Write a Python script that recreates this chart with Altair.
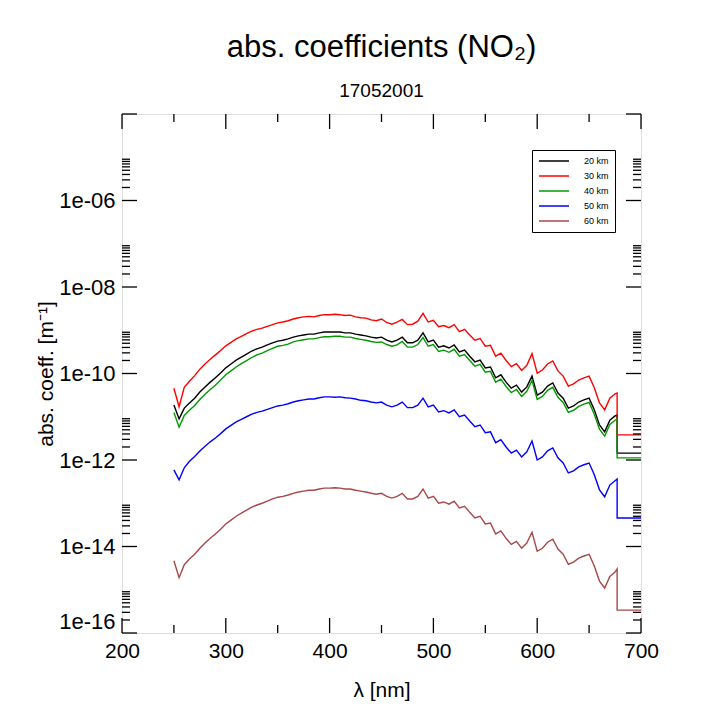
import altair as alt
import pandas as pd

# wavelength grid (nm) of the plotted spectra; last point is just before the drop
wavelengths = list(range(250, 680, 5)) + [677]
series_names = ["20 km", "30 km", "40 km", "50 km", "60 km"]
series_colors = ["#000000", "#ff0000", "#009a00", "#0000ff", "#a84848"]

# log10 of abs. coefficient [m^-1]
log_20km = [-10.73, -11.05, -10.80, -10.68, -10.57, -10.43, -10.31, -10.20, -10.10, -9.99,
            -9.87, -9.78, -9.69, -9.62, -9.55, -9.48, -9.43, -9.39, -9.34, -9.29,
            -9.25, -9.23, -9.20, -9.16, -9.13, -9.11, -9.09, -9.09, -9.06, -9.04,
            -9.04, -9.04, -9.04, -9.06, -9.06, -9.09, -9.11, -9.13, -9.16, -9.18,
            -9.16, -9.23, -9.27, -9.23, -9.16, -9.29, -9.29, -9.23, -9.06, -9.27,
            -9.23, -9.39, -9.36, -9.41, -9.34, -9.50, -9.46, -9.60, -9.73, -9.69,
            -9.87, -9.85, -10.10, -10.03, -10.20, -10.34, -10.27, -10.43, -10.31, -10.06,
            -10.50, -10.43, -10.29, -10.22, -10.45, -10.57, -10.80, -10.75, -10.66, -10.61,
            -10.57, -10.84, -11.19, -11.35, -11.08, -10.98, -10.96]
log_30km = [-10.34, -10.77, -10.32, -10.18, -10.05, -9.90, -9.78, -9.67, -9.57, -9.47,
            -9.36, -9.28, -9.20, -9.14, -9.08, -9.02, -8.98, -8.95, -8.91, -8.87,
            -8.83, -8.81, -8.78, -8.74, -8.71, -8.69, -8.68, -8.69, -8.66, -8.64,
            -8.64, -8.63, -8.64, -8.66, -8.65, -8.69, -8.71, -8.72, -8.76, -8.78,
            -8.74, -8.82, -8.86, -8.81, -8.75, -8.87, -8.86, -8.79, -8.61, -8.81,
            -8.77, -8.92, -8.89, -8.94, -8.87, -9.03, -8.98, -9.11, -9.23, -9.19,
            -9.37, -9.35, -9.60, -9.53, -9.70, -9.84, -9.77, -9.93, -9.81, -9.54,
            -9.99, -9.92, -9.78, -9.71, -9.94, -10.06, -10.29, -10.24, -10.15, -10.10,
            -10.06, -10.33, -10.68, -10.84, -10.57, -10.47, -10.45]
log_40km = [-10.90, -11.24, -10.97, -10.85, -10.74, -10.60, -10.48, -10.37, -10.27, -10.15,
            -10.03, -9.94, -9.85, -9.77, -9.70, -9.63, -9.57, -9.53, -9.47, -9.42,
            -9.37, -9.35, -9.32, -9.27, -9.24, -9.22, -9.20, -9.20, -9.17, -9.15,
            -9.15, -9.14, -9.14, -9.16, -9.16, -9.19, -9.21, -9.23, -9.26, -9.28,
            -9.27, -9.33, -9.37, -9.34, -9.26, -9.39, -9.39, -9.33, -9.17, -9.37,
            -9.33, -9.49, -9.46, -9.51, -9.44, -9.60, -9.56, -9.70, -9.83, -9.79,
            -9.97, -9.95, -10.20, -10.13, -10.30, -10.44, -10.37, -10.53, -10.41, -10.16,
            -10.60, -10.53, -10.39, -10.32, -10.55, -10.67, -10.90, -10.85, -10.76, -10.71,
            -10.67, -10.94, -11.29, -11.45, -11.18, -11.08, -11.05]
log_50km = [-12.23, -12.46, -12.18, -12.03, -11.92, -11.79, -11.68, -11.58, -11.49, -11.39,
            -11.28, -11.20, -11.12, -11.06, -11.00, -10.94, -10.90, -10.87, -10.83, -10.79,
            -10.75, -10.73, -10.70, -10.66, -10.63, -10.61, -10.59, -10.59, -10.56, -10.54,
            -10.54, -10.55, -10.54, -10.56, -10.57, -10.59, -10.62, -10.63, -10.66, -10.68,
            -10.66, -10.73, -10.77, -10.73, -10.66, -10.79, -10.79, -10.73, -10.57, -10.77,
            -10.73, -10.89, -10.86, -10.91, -10.84, -11.00, -10.96, -11.10, -11.23, -11.19,
            -11.37, -11.35, -11.60, -11.53, -11.70, -11.84, -11.77, -11.93, -11.81, -11.56,
            -12.00, -11.93, -11.79, -11.72, -11.95, -12.07, -12.30, -12.25, -12.16, -12.11,
            -12.07, -12.34, -12.69, -12.85, -12.58, -12.48, -12.44]
log_60km = [-14.33, -14.72, -14.42, -14.29, -14.18, -14.04, -13.92, -13.81, -13.71, -13.60,
            -13.48, -13.39, -13.30, -13.23, -13.16, -13.09, -13.04, -13.00, -12.95, -12.90,
            -12.86, -12.84, -12.81, -12.77, -12.74, -12.72, -12.70, -12.70, -12.67, -12.65,
            -12.65, -12.64, -12.65, -12.67, -12.67, -12.70, -12.72, -12.74, -12.77, -12.79,
            -12.77, -12.84, -12.88, -12.84, -12.77, -12.90, -12.90, -12.84, -12.67, -12.88,
            -12.84, -13.00, -12.97, -13.02, -12.95, -13.11, -13.07, -13.21, -13.34, -13.30,
            -13.48, -13.46, -13.71, -13.64, -13.81, -13.95, -13.88, -14.04, -13.92, -13.67,
            -14.11, -14.04, -13.90, -13.83, -14.06, -14.18, -14.41, -14.36, -14.27, -14.22,
            -14.18, -14.45, -14.80, -14.96, -14.69, -14.59, -14.52]
# constant level after the drop (677 - 700 nm)
plateau_log = [-11.84, -11.42, -11.95, -13.34, -15.47]
plateau_wavelengths = [677, 700]

# axis tick positions
x_major = [200, 300, 400, 500, 600, 700]
x_minor = [250, 350, 450, 550, 650]
y_major = [1e-16, 1e-14, 1e-12, 1e-10, 1e-8, 1e-6, 1e-4]
y_labels = [1e-16, 1e-14, 1e-12, 1e-10, 1e-8, 1e-6]
minor_mult = [2, 3, 4, 5, 6, 7, 8, 9]
y_minor = [k * d for d in [1e-16, 1e-14, 1e-12, 1e-10, 1e-8, 1e-6] for k in minor_mult]

all_logs = [log_20km, log_30km, log_40km, log_50km, log_60km]
rows = []
for name, logs, plat in zip(series_names, all_logs, plateau_log):
    i = 0
    for lam, lg in zip(wavelengths, logs):
        rows.append({"lam": lam, "val": 10 ** lg, "series": name, "idx": i})
        i += 1
    for lam in plateau_wavelengths:
        rows.append({"lam": lam, "val": 10 ** plat, "series": name, "idx": i})
        i += 1
df = pd.DataFrame(rows)

W, H = 519, 519
FONT = "Liberation Sans"
MAJ, MIN = 15, 8

xscale = alt.Scale(domain=[200, 700], nice=False, zero=False)
yscale = alt.Scale(type="log", domain=[1e-16, 1e-4], nice=False)

label_expr = ("'1e-' + (abs(round(log(datum.value)/LN10)) < 10 ? '0' : '') + "
              "abs(round(log(datum.value)/LN10))")

x_axis = alt.Axis(values=x_major, ticks=False, domain=False, grid=False,
                  labelFontSize=21, labelFont=FONT, labelColor="black",
                  labelPadding=7, labelFlush=False, title="λ [nm]",
                  titleFontSize=21, titleFont=FONT, titleFontWeight="normal",
                  titleColor="black", titlePadding=18, format="d")
y_axis = alt.Axis(values=y_labels, ticks=False, domain=False, grid=False,
                  labelExpr=label_expr, labelFontSize=22, labelFont=FONT,
                  labelColor="black", labelPadding=7, labelFlush=True,
                  title="abs. coeff. [m⁻¹]", titleFontSize=21, titleFont=FONT,
                  titleFontWeight="normal", titleColor="black", titlePadding=2)

lines = alt.Chart(df).mark_line(strokeWidth=1.4).encode(
    x=alt.X("lam:Q", scale=xscale, axis=x_axis),
    y=alt.Y("val:Q", scale=yscale, axis=y_axis),
    color=alt.Color("series:N", scale=alt.Scale(domain=series_names, range=series_colors),
                    legend=alt.Legend(orient="none", legendX=410, legendY=36, title=None,
                                      symbolType="stroke", symbolSize=900,
                                      symbolStrokeWidth=1.5, clipHeight=10, rowPadding=5,
                                      padding=6, labelFontSize=9, labelFont=FONT,
                                      labelColor="black", labelOffset=14,
                                      strokeColor="black", fillColor="white")),
    order=alt.Order("idx:Q"),
)

def hticks(vals, x0, x1):
    d = pd.DataFrame({"val": vals})
    return alt.Chart(d).mark_rule(color="black", strokeWidth=1.3).encode(
        y=alt.Y("val:Q", scale=yscale, axis=y_axis),
        x=alt.value(x0), x2=alt.value(x1))

def vticks(vals, y0, y1):
    d = pd.DataFrame({"lam": vals})
    return alt.Chart(d).mark_rule(color="black", strokeWidth=1.3).encode(
        x=alt.X("lam:Q", scale=xscale, axis=x_axis),
        y=alt.value(y0), y2=alt.value(y1))

ticks = [
    hticks(y_major, 0, MAJ), hticks(y_minor, 0, MIN),
    hticks(y_major, W - MAJ, W), hticks(y_minor, W - MIN, W),
    vticks(x_major, H - MAJ, H), vticks(x_minor, H - MIN, H),
    vticks(x_major, 0, MAJ), vticks(x_minor, 0, MIN),
]

chart = alt.layer(lines, *ticks).properties(
    width=W, height=H,
    title=alt.TitleParams("abs. coefficients (NO₂)", subtitle="17052001",
                          fontSize=31, subtitleFontSize=19, font=FONT, subtitleFont=FONT,
                          fontWeight="normal", color="black", subtitleColor="black",
                          anchor="middle", offset=11, subtitlePadding=18),
    autosize=alt.AutoSizeParams(type="none"),
    padding={"left": 114, "top": 106, "right": 60, "bottom": 85},
).configure_view(stroke="black", strokeWidth=2).configure(background="white")

chart.save("out.html", embed_options={"renderer": "svg", "actions": False})
